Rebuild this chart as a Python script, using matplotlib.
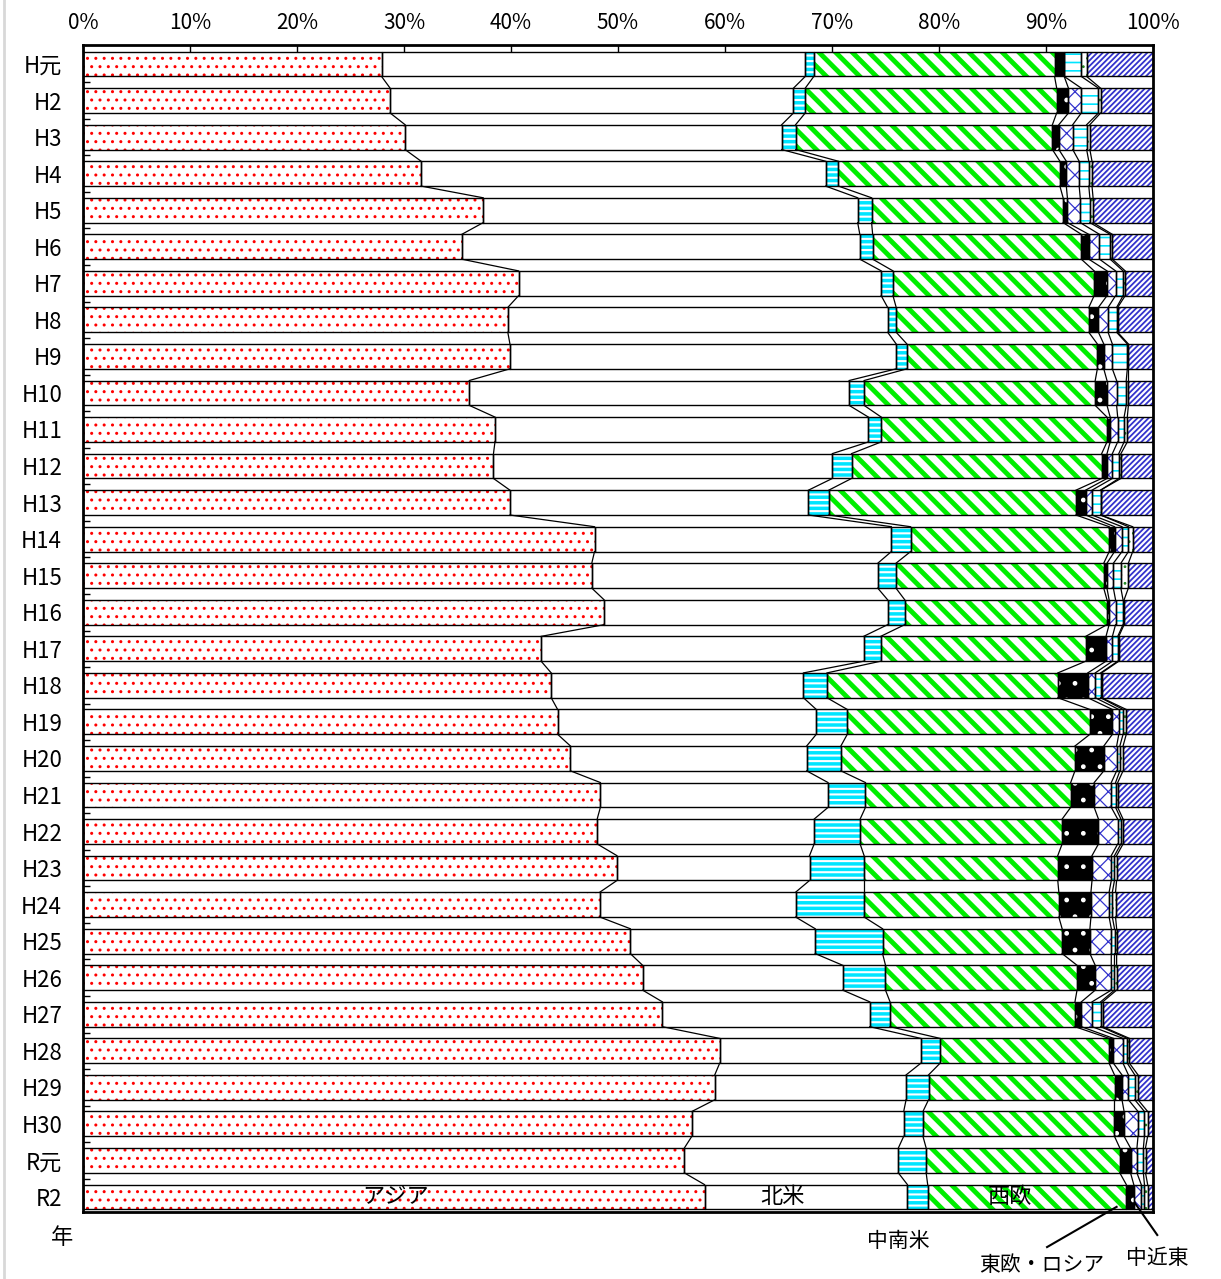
import numpy as np
import matplotlib
matplotlib.use("Agg")
import matplotlib.pyplot as plt
from matplotlib.lines import Line2D

plt.rcParams['font.family'] = ['Noto Sans CJK JP', 'DejaVu Sans']

years = ["H元", "H2", "H3", "H4", "H5", "H6", "H7", "H8", "H9", "H10",
         "H11", "H12", "H13", "H14", "H15", "H16", "H17", "H18", "H19", "H20",
         "H21", "H22", "H23", "H24", "H25", "H26", "H27", "H28", "H29", "H30",
         "R元", "R2"]

# shares by region (%)
asia = [27.9, 28.7, 30.1, 31.6, 37.4, 35.4, 40.7, 39.7, 39.9, 36.1, 38.5, 38.4, 39.9, 47.9, 47.5, 48.7,
        42.9, 43.8, 44.4, 45.6, 48.4, 48.1, 49.9, 48.3, 51.2, 52.3, 54.2, 59.5, 59.1, 56.9, 56.2, 58.2]
n_america = [39.6, 37.7, 35.2, 37.8, 35.0, 37.2, 33.9, 35.5, 36.1, 35.5, 34.9, 31.7, 27.9, 27.8, 26.7, 26.5,
             30.2, 23.6, 24.2, 22.1, 21.3, 20.3, 18.0, 18.3, 17.3, 18.7, 19.4, 18.8, 17.9, 19.8, 20.0, 19.0]
latin = [0.8, 1.1, 1.3, 1.2, 1.3, 1.2, 1.1, 0.8, 1.0, 1.4, 1.2, 1.8, 1.9, 1.8, 1.7, 1.6,
         1.6, 2.2, 2.9, 3.2, 3.5, 4.3, 5.1, 6.4, 6.3, 4.0, 1.9, 1.8, 2.1, 1.8, 2.6, 1.9]
w_europe = [22.5, 23.5, 24.0, 20.7, 17.9, 19.5, 18.8, 18.0, 17.8, 21.6, 21.1, 23.4, 23.1, 18.6, 19.4, 18.9,
            19.2, 21.6, 22.7, 21.9, 19.2, 18.9, 18.1, 18.2, 16.8, 17.9, 17.3, 15.8, 17.4, 17.9, 18.1, 18.6]
e_europe = [0.9, 1.1, 0.6, 0.6, 0.4, 0.7, 1.2, 0.9, 0.6, 1.1, 0.3, 0.5, 0.9, 0.5, 0.3, 0.2,
            1.9, 2.8, 2.1, 2.7, 2.2, 3.4, 3.2, 3.0, 2.6, 1.7, 0.6, 0.4, 0.7, 0.9, 1.0, 0.7]
mideast = [0.0, 1.2, 1.3, 1.2, 1.2, 1.0, 0.8, 0.9, 0.8, 0.9, 0.7, 0.5, 0.6, 0.7, 0.6, 0.6,
           0.6, 0.7, 0.6, 1.2, 1.6, 1.8, 1.8, 1.7, 2.0, 1.5, 1.0, 0.9, 0.6, 1.3, 0.6, 0.7]
africa = [1.6, 1.6, 1.3, 0.9, 0.9, 1.0, 0.7, 0.8, 1.4, 0.9, 0.6, 0.6, 0.8, 0.6, 0.7, 0.7,
          0.5, 0.5, 0.4, 0.3, 0.4, 0.3, 0.3, 0.3, 0.3, 0.3, 0.8, 0.4, 0.6, 0.6, 0.6, 0.3]
oceania = [0.5, 0.2, 0.3, 0.3, 0.3, 0.2, 0.2, 0.1, 0.1, 0.2, 0.3, 0.2, 0.0, 0.4, 0.7, 0.1,
           0.1, 0.1, 0.3, 0.3, 0.2, 0.2, 0.2, 0.3, 0.2, 0.2, 0.2, 0.2, 0.3, 0.3, 0.2, 0.3]
other = [6.2, 4.9, 5.9, 5.7, 5.6, 3.8, 2.6, 3.3, 2.3, 2.3, 2.4, 3.0, 4.9, 1.9, 2.3, 2.7,
         3.2, 4.8, 2.5, 2.8, 3.3, 2.8, 3.4, 3.5, 3.4, 3.4, 4.7, 2.2, 1.4, 0.5, 0.7, 0.5]

# (values, face, hatch, hatch colour, hatch linewidth)
series = [
    (asia, "white", "..", "red", 1.0),
    (n_america, "white", None, None, 1.0),
    (latin, "white", "---", "#00e5ff", 2.5),
    (w_europe, "white", "\\\\", "#00ee00", 3.5),
    (e_europe, "black", ".", "white", 1.0),
    (mideast, "white", "xx", "#3333cc", 0.9),
    (africa, "white", "--", "#00e5ff", 1.2),
    (oceania, "white", "..", "#228822", 0.8),
    (other, "white", "//////", "#3333cc", 1.3),
]

vals = np.array([s[0] for s in series], dtype=float)
pct = vals / vals.sum(axis=0) * 100
cum = np.vstack([np.zeros(len(years)), np.cumsum(pct, axis=0)])

y = np.arange(len(years))
h = 0.68

fig = plt.figure(figsize=(12.21, 12.79), dpi=100)
ax = fig.add_axes([0.068, 0.0524, 0.8763, 0.9124])

for k, (v, face, hatch, hcol, hlw) in enumerate(series):
    left = cum[k]
    width = pct[k]
    if hatch:
        with plt.rc_context({'hatch.linewidth': hlw}):
            bars = ax.barh(y, width, left=left, height=h, color=face,
                           edgecolor=hcol, hatch=hatch, linewidth=0, zorder=2)
        for b in bars:
            if hasattr(b, "set_hatch_linewidth"):
                b.set_hatch_linewidth(hlw)
    else:
        ax.barh(y, width, left=left, height=h, color=face, linewidth=0, zorder=2)
    ax.barh(y, width, left=left, height=h, fill=False, edgecolor="black",
            linewidth=1.0, zorder=3)

# series lines between neighbouring bars
for k in range(1, len(series)):
    for i in range(len(years) - 1):
        ax.plot([cum[k, i], cum[k, i + 1]], [i + h / 2, i + 1 - h / 2],
                color="black", lw=0.9, zorder=3)

ax.set_xlim(0, 100)
ax.set_ylim(31.41, -0.52)
ax.xaxis.tick_top()
ax.set_xticks(np.arange(0, 101, 10))
ax.set_xticklabels([f"{t}%" for t in range(0, 101, 10)], fontsize=15)
ax.tick_params(axis="x", direction="in", length=5, width=1, pad=8)
ax.set_yticks(y)
ax.set_yticklabels(years, fontsize=16)
ax.tick_params(axis="y", length=0, pad=15)
ax.set_yticks(np.arange(0.5, len(years) - 1, 1), minor=True)
ax.tick_params(axis="y", which="minor", direction="in", length=5, width=1)
for sp in ax.spines.values():
    sp.set_linewidth(2)

# region names
ax.text(29.2, 31, "アジア", ha="center", va="center", fontsize=16, zorder=5)
ax.text(65.4, 31, "北米", ha="center", va="center", fontsize=16, zorder=5)
ax.text(86.6, 31, "西欧", ha="center", va="center", fontsize=16, zorder=5)
ax.text(76.2, 32.2, "中南米", ha="center", va="center", fontsize=15, clip_on=False)
ax.text(89.6, 32.86, "東欧・ロシア", ha="center", va="center", fontsize=15, clip_on=False)
ax.text(100.4, 32.67, "中近東", ha="center", va="center", fontsize=15, clip_on=False)
ax.text(-2.0, 32.1, "年", ha="center", va="center", fontsize=16, clip_on=False)
ax.plot([90.1, 96.6], [32.37, 31.27], color="black", lw=1.5, clip_on=False)
ax.plot([100.4, 98.3], [32.04, 31.16], color="black", lw=1.5, clip_on=False)

fig.add_artist(Line2D([0.003, 0.003], [0, 1], color="#d8d8d8", lw=2))

fig.savefig("out.png", dpi=100)
